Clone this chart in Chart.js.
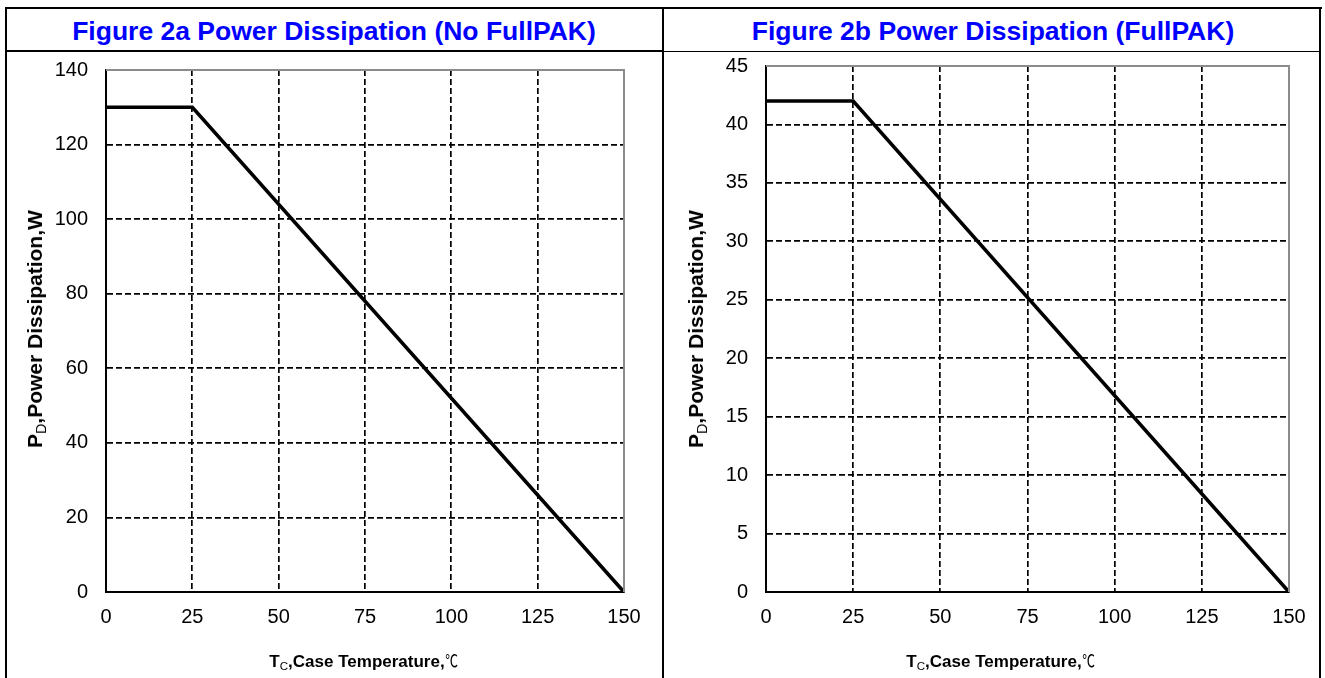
<!DOCTYPE html>
<html>
<head>
<meta charset="utf-8">
<script src="https://cdn.jsdelivr.net/npm/chart.js@4"></script>
<style>
  html, body { margin: 0; padding: 0; background: #fff; }
  body { width: 1325px; height: 678px; position: relative; overflow: hidden; font-family: "Liberation Sans", Arial, sans-serif; }
  .line { position: absolute; background: #000; }
  .title { position: absolute; top: 31px; transform: translate(-50%, -50%); white-space: nowrap; color: #0000ff; font-weight: bold; font-size: 26.5px; }
  .box { position: absolute; }
  .ytitle { position: absolute; transform: translate(-50%, -50%) rotate(-90deg); white-space: nowrap; font-weight: bold; font-size: 21px; color: #000; }
  .xtitle { position: absolute; transform: translate(-50%, -50%); white-space: nowrap; font-weight: bold; font-size: 17px; color: #000; }
  sub { font-size: 0.68em; vertical-align: -0.3em; line-height: 0; font-weight: normal; }
  .deg { font-weight: normal; font-family: "Noto Sans CJK SC", sans-serif; display: inline-block; transform: scaleX(0.75); transform-origin: left center; margin-left: 1px; margin-right: -4px; }
</style>
</head>
<body>
<!-- table frame -->
<div class="line" style="left:5px; top:7px; width:1317px; height:2px;"></div>
<div class="line" style="left:5px; top:7px; width:2px; height:680px;"></div>
<div class="line" style="left:1319px; top:7px; width:2px; height:680px;"></div>
<div class="line" style="left:662px; top:7px; width:2px; height:680px;"></div>
<div class="line" style="left:5px; top:50px; width:658px; height:2px;"></div>
<div class="line" style="left:663px; top:51px; width:658px; height:1px;"></div>

<div class="title" style="left:334px;">Figure 2a Power Dissipation (No FullPAK)</div>
<div class="title" style="left:993px;">Figure 2b Power Dissipation (FullPAK)</div>

<div class="box" style="left:8px; top:54px; width:650px; height:620px;"><canvas id="c1"></canvas></div>
<div class="box" style="left:668px; top:54px; width:650px; height:620px;"><canvas id="c2"></canvas></div>

<div class="ytitle" style="left:35px; top:329px;">P<sub>D</sub>,Power Dissipation,W</div>
<div class="ytitle" style="left:696px; top:329px;">P<sub>D</sub>,Power Dissipation,W</div>
<div class="xtitle" style="left:364px; top:659px;">T<sub>C</sub>,Case Temperature,<span class="deg">℃</span></div>
<div class="xtitle" style="left:1001px; top:659px;">T<sub>C</sub>,Case Temperature,<span class="deg">℃</span></div>

<script>
// ---- data ----
const tempC = [0, 25, 150];
const powerNoFullPAK = [130, 130, 0];
const powerFullPAK = [42, 42, 0];
const xTicks = [0, 25, 50, 75, 100, 125, 150];
const yTicksA = [0, 20, 40, 60, 80, 100, 120, 140];
const yTicksB = [0, 5, 10, 15, 20, 25, 30, 35, 40, 45];

const tickFont = { family: '"Liberation Sans", Arial, sans-serif', size: 20 };

const frameTopRight = {
  id: 'frameTopRight',
  afterDraw(chart) {
    const a = chart.chartArea, c = chart.ctx;
    c.save();
    c.strokeStyle = '#8c8c8c';
    c.lineWidth = 2;
    c.beginPath();
    c.moveTo(a.left, a.top);
    c.lineTo(a.right, a.top);
    c.lineTo(a.right, a.bottom);
    c.stroke();
    c.restore();
  }
};

function zeroPad(s) { s.paddingTop = 0; s.paddingBottom = 0; s.paddingLeft = 0; s.paddingRight = 0; }

function makeChart(id, xs, ys, yTicks, area) {
  const pts = xs.map((x, i) => ({ x: x, y: ys[i] }));
  const yMin = yTicks[0], yMax = yTicks[yTicks.length - 1];
  const xMin = xTicks[0], xMax = xTicks[xTicks.length - 1];
  const gridColor = (min, max) => (ctx) => {
    const v = ctx.tick ? ctx.tick.value : null;
    return (v === min || v === max) ? 'rgba(0,0,0,0)' : '#000';
  };
  const chart = new Chart(document.getElementById(id), {
    type: 'scatter',
    data: {
      datasets: [{
        data: pts,
        showLine: true,
        borderColor: '#000',
        borderWidth: 3.5,
        pointRadius: 0,
        fill: false,
        clip: false
      }]
    },
    plugins: [frameTopRight],
    options: {
      responsive: true,
      maintainAspectRatio: false,
      animation: false,
      events: [],
      layout: { padding: { left: 0, top: area.top, right: area.right, bottom: 42 } },
      plugins: { legend: { display: false }, tooltip: { enabled: false } },
      scales: {
        x: {
          type: 'linear',
          min: xMin, max: xMax,
          afterBuildTicks: (s) => { s.ticks = xTicks.map(v => ({ value: v })); },
          afterFit: (s) => { s.height = 40; zeroPad(s); },
          ticks: { font: tickFont, color: '#000', padding: 13, maxRotation: 0 },
          grid: { color: gridColor(xMin, xMax), lineWidth: 1.7, drawTicks: false },
          border: { display: true, color: '#000', width: 2, dash: [6, 3] }
        },
        y: {
          type: 'linear',
          min: yMin, max: yMax,
          afterBuildTicks: (s) => { s.ticks = yTicks.map(v => ({ value: v })); },
          afterFit: (s) => { s.width = 98; zeroPad(s); },
          ticks: { font: tickFont, color: '#000', padding: 18 },
          grid: { color: gridColor(yMin, yMax), lineWidth: 1.7, drawTicks: false },
          border: { display: true, color: '#000', width: 2, dash: [6, 3] }
        }
      }
    }
  });
  // nudge layout padding so the plot area lands on the intended frame
  const ca = chart.chartArea, p = chart.options.layout.padding;
  const dTop = ca.top - area.top, dRight = ca.right - (chart.width - area.right);
  if (Math.abs(dTop) > 0.5 || Math.abs(dRight) > 0.5) {
    p.top = Math.max(0, p.top - dTop);
    p.right = Math.max(0, p.right + dRight);
    chart.update();
  }
  return chart;
}

Chart.defaults.font.family = '"Liberation Sans", Arial, sans-serif';
const ch1 = makeChart('c1', tempC, powerNoFullPAK, yTicksA, { top: 16, right: 34 });
const ch2 = makeChart('c2', tempC, powerFullPAK, yTicksB, { top: 12, right: 29 });
</script>
</body>
</html>
